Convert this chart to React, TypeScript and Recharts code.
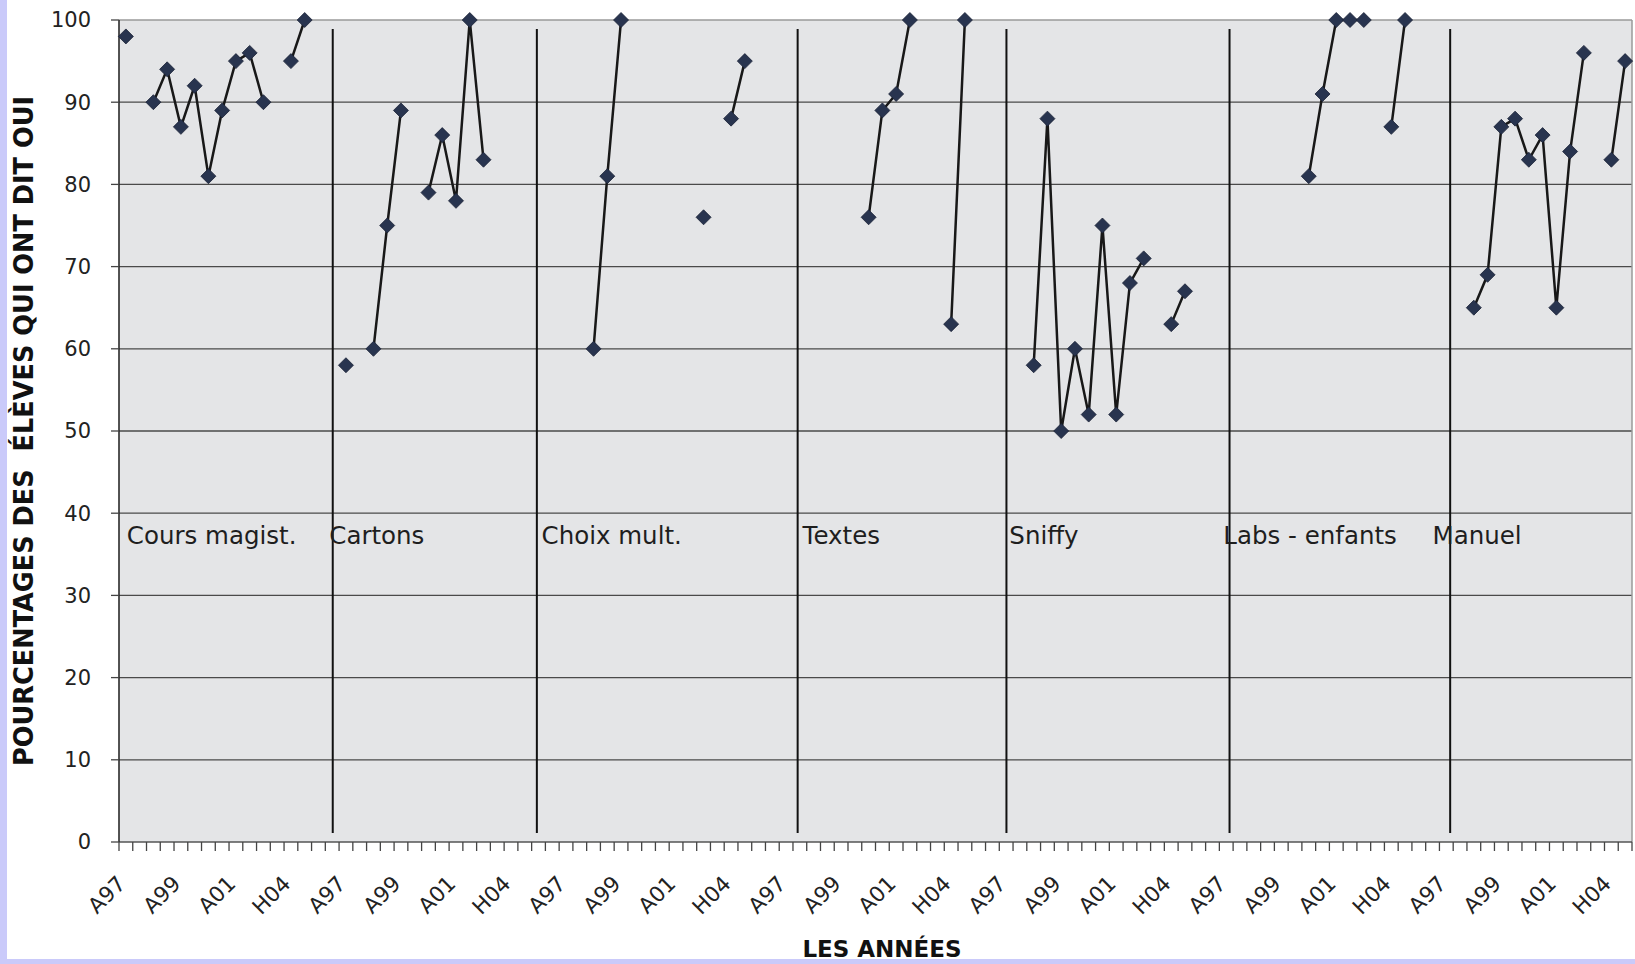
import { CartesianGrid, Label, Line, LineChart, ReferenceDot, ReferenceLine, XAxis, YAxis } from "recharts";

// 16 semestres par bloc (le dernier bloc s'arrête après 14)
const PERIODS = ["A97", "H98", "A98", "H99", "A99", "H00", "A00", "H01", "A01", "H02", "A02", "H03", "H04", "A04", "H05", "A05"];

const GROUPS = ["Cours magist.", "Cartons", "Choix mult.", "Textes", "Sniffy", "Labs - enfants", "Manuel"];

const coursMagist = [98, null, 90, 94, 87, 92, 81, 89, 95, 96, 90, null, 95, 100, null, null];
const cartons = [58, null, 60, 75, 89, null, 79, 86, 78, 100, 83, null, null, null, null, null];
const choixMult = [null, null, 60, 81, 100, null, null, null, null, null, 76, null, 88, 95, null, null];
const textes = [null, null, null, null, null, null, 76, 89, 91, 100, null, null, 63, 100, null, null];
const sniffy = [null, null, 58, 88, 50, 60, 52, 75, 52, 68, 71, null, 63, 67, null, null];
const labsEnfants = [null, null, null, null, null, null, 81, 91, 100, 100, 100, null, 87, 100, null, null];
const manuel = [null, null, 65, 69, 87, 88, 83, 86, 65, 84, 96, null, 83, 95];

const SERIES = [coursMagist, cartons, choixMult, textes, sniffy, labsEnfants, manuel];

// traits de séparation tracés à la main (en unités de catégorie)
const SEPARATORS = [15.54, 30.38, 49.34, 64.52, 80.74, 96.78];
// zones de texte des blocs
const GROUP_LABEL_X = [0.57, 15.29, 30.72, 49.7, 64.73, 80.29, 95.5];
const GROUP_LABEL_Y = 36.2;

const Y_TICKS = [0, 10, 20, 30, 40, 50, 60, 70, 80, 90, 100];
const GRID_VALUES = [10, 20, 30, 40, 50, 60, 70, 80, 90];

const data = SERIES.flatMap((vals) => vals.map((v, i) => ({ label: PERIODS[i], pct: v }))).map((row, i) => ({
  ...row,
  x: i + 0.5,
}));
const N = data.length;
const X_TICKS = Array.from({ length: N + 1 }, (_, i) => i);

const W = 1635;
const H = 964;
const MARGIN = { top: 20, right: 3, bottom: 12, left: 0 };
const Y_AXIS_W = 119;
const HALF_BAND = (W - MARGIN.right - MARGIN.left - Y_AXIS_W) / N / 2;

const FONT = "'DejaVu Sans', Verdana, sans-serif";

function CatTick({ x, y, payload }: any) {
  const i = payload.value;
  if (i % 4 !== 0 || i >= N) return <g />;
  const ax = x + HALF_BAND + 1;
  const ay = y + 32;
  return (
    <text
      x={ax}
      y={ay}
      transform={`rotate(-45 ${ax} ${ay})`}
      textAnchor="end"
      fontSize={21.5}
      fontFamily={FONT}
      fill="#222"
    >
      {data[i].label}
    </text>
  );
}

function Diamond(props: any) {
  const { cx, cy, index, payload } = props;
  if (payload?.pct == null || cy == null) return <g key={`d${index}`} />;
  const r = 7.5;
  return (
    <path
      key={`d${index}`}
      d={`M${cx} ${cy - r}L${cx + r} ${cy}L${cx} ${cy + r}L${cx - r} ${cy}Z`}
      fill="#28344f"
      stroke="#1b2236"
      strokeWidth={0.8}
    />
  );
}

export default function App() {
  return (
    <div style={{ position: "fixed", left: 0, top: 0, width: W, height: H, background: "#cacafa" }}>
      <div style={{ position: "absolute", left: 7, top: 0, width: W - 7, height: H - 5, background: "#fff" }} />
      <div style={{ position: "absolute", left: 0, top: 0 }}>
        <LineChart width={W} height={H} data={data} margin={MARGIN}>
          <CartesianGrid
            vertical={false}
            horizontalValues={GRID_VALUES}
            fill="#e4e5e7"
            fillOpacity={1}
            stroke="#4a4a4a"
            strokeWidth={1.3}
          />
          <XAxis
            type="number"
            dataKey="x"
            domain={[0, N]}
            ticks={X_TICKS}
            interval={0}
            tickSize={9}
            tickLine={{ stroke: "#444", strokeWidth: 1.3 }}
            axisLine={{ stroke: "#555", strokeWidth: 1.5 }}
            tick={<CatTick />}
            height={110}
          >
            <Label
              content={() => (
                <text x={882} y={957} textAnchor="middle" fontSize={23} fontWeight="bold" fontFamily={FONT} fill="#111">
                  LES ANNÉES
                </text>
              )}
            />
          </XAxis>
          <YAxis
            type="number"
            domain={[0, 100]}
            ticks={Y_TICKS}
            interval={0}
            width={Y_AXIS_W}
            tickSize={8}
            tickMargin={20}
            tick={{ fontSize: 21, fontFamily: FONT, fill: "#222" }}
            tickLine={{ stroke: "#444", strokeWidth: 1.3 }}
            axisLine={{ stroke: "#2a2a2a", strokeWidth: 1.6 }}
          >
            <Label
              content={() => (
                <text
                  x={24}
                  y={431}
                  transform="rotate(-90 24 431)"
                  textAnchor="middle"
                  dominantBaseline="central"
                  textLength={670}
                  lengthAdjust="spacingAndGlyphs"
                  fontSize={26}
                  fontWeight="bold"
                  fontFamily="'Liberation Sans Narrow', 'DejaVu Sans Condensed', sans-serif"
                  fill="#111"
                  style={{ whiteSpace: "pre" }}
                >
                  POURCENTAGES DES  ÉLÈVES QUI ONT DIT OUI
                </text>
              )}
            />
          </YAxis>
          <ReferenceLine y={100} stroke="#9a9a9a" strokeWidth={1.5} />
          <ReferenceLine x={N} stroke="#9a9a9a" strokeWidth={1.5} />
          {SEPARATORS.map((s) => (
            <ReferenceLine
              key={s}
              segment={[
                { x: s, y: 1.1 },
                { x: s, y: 98.9 },
              ]}
              stroke="#111"
              strokeWidth={2}
            />
          ))}
          {GROUPS.map((g, i) => (
            <ReferenceDot key={g} x={GROUP_LABEL_X[i]} y={GROUP_LABEL_Y} r={0} fill="none" stroke="none">
              <Label
                content={({ viewBox }: any) => (
                  <text x={viewBox.x} y={viewBox.y} fontSize={24.5} fontFamily={FONT} fill="#1e1e1e">
                    {g}
                  </text>
                )}
              />
            </ReferenceDot>
          ))}
          <Line
            type="linear"
            dataKey="pct"
            stroke="#181818"
            strokeWidth={2.5}
            dot={Diamond}
            activeDot={false}
            connectNulls={false}
            isAnimationActive={false}
          />
        </LineChart>
      </div>
    </div>
  );
}
